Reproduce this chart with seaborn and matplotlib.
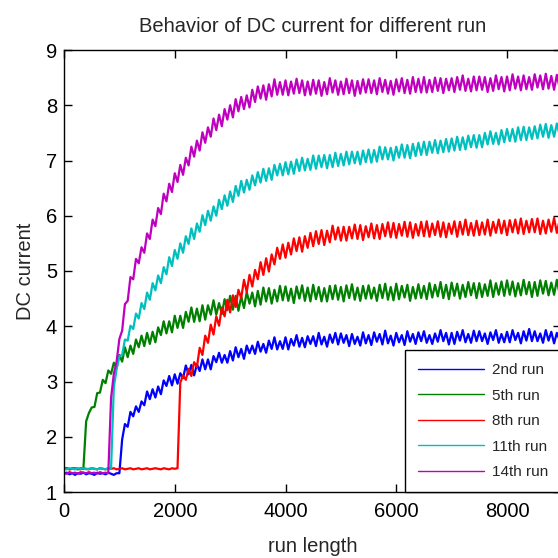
import numpy as np
import pandas as pd
import matplotlib
matplotlib.use("Agg")
import matplotlib.pyplot as plt
import seaborn as sns

run_length = np.arange(0, 9001, 50)

run_2nd = [
    1.33, 1.35, 1.32, 1.34, 1.31, 1.34, 1.33, 1.35, 1.32, 1.34,
    1.33, 1.31, 1.35, 1.33, 1.34, 1.32, 1.35, 1.33, 1.31, 1.34,
    1.34, 1.95, 2.23, 2.18, 2.45, 2.37, 2.55, 2.45, 2.64, 2.57,
    2.82, 2.68, 2.86, 2.71, 2.91, 2.77, 3.02, 2.92, 3.10, 2.93,
    3.13, 2.96, 3.15, 3.06, 3.29, 3.13, 3.30, 3.11, 3.31, 3.19,
    3.40, 3.22, 3.40, 3.22, 3.46, 3.35, 3.52, 3.34, 3.48, 3.34,
    3.55, 3.38, 3.62, 3.44, 3.59, 3.41, 3.65, 3.51, 3.65, 3.50,
    3.72, 3.54, 3.68, 3.52, 3.74, 3.59, 3.80, 3.58, 3.73, 3.59,
    3.80, 3.58, 3.77, 3.65, 3.84, 3.63, 3.79, 3.62, 3.82, 3.68,
    3.82, 3.64, 3.88, 3.67, 3.81, 3.63, 3.85, 3.70, 3.88, 3.67,
    3.87, 3.70, 3.84, 3.64, 3.86, 3.68, 3.81, 3.65, 3.89, 3.69,
    3.84, 3.66, 3.89, 3.72, 3.86, 3.67, 3.92, 3.69, 3.83, 3.65,
    3.88, 3.71, 3.84, 3.66, 3.91, 3.72, 3.86, 3.68, 3.89, 3.73,
    3.91, 3.70, 3.84, 3.68, 3.87, 3.72, 3.93, 3.73, 3.88, 3.67,
    3.88, 3.68, 3.90, 3.74, 3.93, 3.71, 3.86, 3.70, 3.92, 3.73,
    3.91, 3.73, 3.87, 3.68, 3.89, 3.75, 3.93, 3.70, 3.86, 3.71,
    3.90, 3.71, 3.93, 3.75, 3.88, 3.69, 3.91, 3.74, 3.95, 3.73,
    3.91, 3.73, 3.87, 3.70, 3.93, 3.74, 3.90, 3.69, 3.88, 3.75,
    3.90,
]

run_5th = [
    1.42, 1.43, 1.41, 1.43, 1.42, 1.41, 1.43, 1.42, 2.28, 2.43,
    2.53, 2.54, 2.79, 2.80, 3.03, 2.97, 3.20, 3.14, 3.34, 3.25,
    3.48, 3.36, 3.62, 3.44, 3.65, 3.50, 3.76, 3.62, 3.83, 3.64,
    3.88, 3.68, 3.90, 3.71, 3.98, 3.84, 4.09, 3.87, 4.09, 3.89,
    4.19, 3.97, 4.19, 3.97, 4.26, 4.08, 4.34, 4.08, 4.32, 4.09,
    4.38, 4.12, 4.38, 4.21, 4.47, 4.21, 4.42, 4.22, 4.49, 4.29,
    4.55, 4.30, 4.55, 4.28, 4.54, 4.33, 4.62, 4.41, 4.61, 4.36,
    4.64, 4.39, 4.70, 4.45, 4.69, 4.41, 4.66, 4.45, 4.73, 4.47,
    4.72, 4.46, 4.68, 4.42, 4.72, 4.50, 4.74, 4.46, 4.70, 4.45,
    4.75, 4.49, 4.71, 4.45, 4.69, 4.45, 4.73, 4.49, 4.74, 4.48,
    4.71, 4.45, 4.74, 4.51, 4.76, 4.48, 4.70, 4.46, 4.73, 4.50,
    4.74, 4.50, 4.70, 4.46, 4.75, 4.51, 4.77, 4.48, 4.71, 4.47,
    4.77, 4.49, 4.73, 4.52, 4.75, 4.46, 4.71, 4.50, 4.76, 4.51,
    4.73, 4.49, 4.78, 4.52, 4.75, 4.54, 4.80, 4.51, 4.75, 4.49,
    4.79, 4.55, 4.77, 4.50, 4.75, 4.53, 4.80, 4.56, 4.78, 4.51,
    4.78, 4.53, 4.76, 4.55, 4.83, 4.53, 4.78, 4.57, 4.81, 4.55,
    4.83, 4.57, 4.81, 4.54, 4.78, 4.56, 4.84, 4.58, 4.80, 4.53,
    4.80, 4.55, 4.83, 4.59, 4.82, 4.56, 4.79, 4.57, 4.84, 4.58,
    4.80,
]

run_8th = [
    1.42, 1.43, 1.41, 1.42, 1.43, 1.42, 1.41, 1.43, 1.42, 1.41,
    1.43, 1.42, 1.41, 1.43, 1.42, 1.41, 1.43, 1.42, 1.43, 1.41,
    1.42, 1.43, 1.41, 1.42, 1.43, 1.41, 1.42, 1.43, 1.41, 1.42,
    1.43, 1.41, 1.42, 1.43, 1.42, 1.41, 1.43, 1.42, 1.41, 1.43,
    1.42, 1.43, 2.98, 3.11, 3.03, 3.23, 3.10, 3.35, 3.26, 3.61,
    3.48, 3.83, 3.70, 4.03, 3.85, 4.18, 4.01, 4.34, 4.18, 4.48,
    4.25, 4.56, 4.35, 4.66, 4.51, 4.84, 4.62, 4.93, 4.72, 5.02,
    4.85, 5.16, 4.93, 5.23, 4.99, 5.30, 5.12, 5.42, 5.22, 5.48,
    5.24, 5.51, 5.30, 5.59, 5.36, 5.61, 5.35, 5.63, 5.42, 5.69,
    5.45, 5.72, 5.49, 5.74, 5.47, 5.73, 5.52, 5.82, 5.57, 5.79,
    5.55, 5.80, 5.55, 5.80, 5.59, 5.84, 5.58, 5.83, 5.56, 5.81,
    5.61, 5.86, 5.59, 5.83, 5.58, 5.85, 5.63, 5.88, 5.61, 5.87,
    5.60, 5.85, 5.64, 5.89, 5.62, 5.88, 5.60, 5.85, 5.64, 5.89,
    5.63, 5.90, 5.62, 5.86, 5.65, 5.90, 5.62, 5.88, 5.61, 5.86,
    5.67, 5.90, 5.62, 5.89, 5.66, 5.93, 5.65, 5.87, 5.64, 5.91,
    5.65, 5.88, 5.66, 5.93, 5.64, 5.89, 5.69, 5.93, 5.68, 5.91,
    5.65, 5.92, 5.70, 5.93, 5.68, 5.95, 5.67, 5.91, 5.70, 5.94,
    5.70, 5.95, 5.67, 5.91, 5.68, 5.93, 5.71, 5.96, 5.69, 5.92,
    5.70,
]

run_11th = [
    1.42, 1.41, 1.43, 1.42, 1.41, 1.43, 1.42, 1.43, 1.41, 1.42,
    1.43, 1.42, 1.41, 1.43, 1.42, 1.41, 1.43, 1.42, 2.90, 3.22,
    3.46, 3.48, 3.76, 3.74, 4.01, 3.95, 4.23, 4.14, 4.42, 4.31,
    4.61, 4.48, 4.78, 4.65, 4.92, 4.78, 5.07, 4.94, 5.25, 5.09,
    5.38, 5.22, 5.50, 5.33, 5.63, 5.49, 5.77, 5.58, 5.86, 5.71,
    6.01, 5.83, 6.09, 5.91, 6.17, 6.00, 6.29, 6.12, 6.37, 6.18,
    6.44, 6.25, 6.54, 6.36, 6.63, 6.42, 6.65, 6.47, 6.73, 6.55,
    6.79, 6.60, 6.85, 6.63, 6.86, 6.65, 6.92, 6.73, 6.94, 6.73,
    6.97, 6.75, 6.98, 6.76, 7.02, 6.81, 7.05, 6.82, 7.03, 6.83,
    7.09, 6.85, 7.09, 6.88, 7.10, 6.86, 7.10, 6.88, 7.14, 6.90,
    7.12, 6.91, 7.16, 6.93, 7.16, 6.95, 7.16, 6.93, 7.18, 6.97,
    7.20, 6.96, 7.19, 6.98, 7.25, 7.02, 7.24, 7.02, 7.23, 7.00,
    7.25, 7.05, 7.29, 7.05, 7.28, 7.04, 7.30, 7.08, 7.32, 7.10,
    7.34, 7.10, 7.34, 7.14, 7.37, 7.13, 7.36, 7.15, 7.39, 7.16,
    7.40, 7.18, 7.43, 7.19, 7.42, 7.20, 7.45, 7.24, 7.46, 7.23,
    7.46, 7.24, 7.50, 7.29, 7.53, 7.30, 7.50, 7.29, 7.55, 7.33,
    7.57, 7.35, 7.57, 7.34, 7.60, 7.37, 7.61, 7.37, 7.60, 7.39,
    7.62, 7.40, 7.65, 7.43, 7.66, 7.41, 7.64, 7.43, 7.67, 7.46,
    7.66,
]

run_14th = [
    1.35, 1.33, 1.36, 1.34, 1.35, 1.33, 1.36, 1.35, 1.34, 1.36,
    1.34, 1.35, 1.33, 1.36, 1.34, 1.35, 1.34, 2.70, 3.14, 3.36,
    3.77, 3.92, 4.40, 4.46, 4.89, 4.85, 5.22, 5.14, 5.43, 5.33,
    5.68, 5.58, 5.93, 5.81, 6.14, 6.03, 6.40, 6.26, 6.58, 6.43,
    6.77, 6.61, 6.92, 6.74, 7.05, 6.91, 7.25, 7.07, 7.36, 7.18,
    7.51, 7.32, 7.60, 7.43, 7.76, 7.55, 7.83, 7.62, 7.93, 7.74,
    8.00, 7.78, 8.11, 7.89, 8.15, 7.93, 8.18, 7.96, 8.28, 8.06,
    8.34, 8.12, 8.36, 8.10, 8.38, 8.16, 8.47, 8.19, 8.42, 8.19,
    8.45, 8.18, 8.43, 8.21, 8.48, 8.22, 8.45, 8.18, 8.43, 8.19,
    8.46, 8.21, 8.45, 8.17, 8.42, 8.20, 8.49, 8.23, 8.45, 8.19,
    8.43, 8.20, 8.48, 8.22, 8.45, 8.17, 8.44, 8.21, 8.47, 8.23,
    8.47, 8.22, 8.45, 8.20, 8.49, 8.24, 8.46, 8.21, 8.44, 8.19,
    8.47, 8.25, 8.49, 8.22, 8.46, 8.21, 8.51, 8.24, 8.48, 8.23,
    8.51, 8.23, 8.46, 8.24, 8.50, 8.26, 8.49, 8.22, 8.48, 8.27,
    8.49, 8.24, 8.51, 8.28, 8.54, 8.26, 8.48, 8.25, 8.52, 8.27,
    8.52, 8.28, 8.51, 8.24, 8.49, 8.26, 8.54, 8.29, 8.51, 8.25,
    8.52, 8.27, 8.56, 8.30, 8.52, 8.27, 8.54, 8.29, 8.51, 8.28,
    8.56, 8.32, 8.54, 8.29, 8.57, 8.30, 8.53, 8.28, 8.55, 8.31,
    8.52,
]

run_names = ["2nd run", "5th run", "8th run", "11th run", "14th run"]
run_colors = ["#0000ff", "#008000", "#ff0000", "#00bfbf", "#bf00bf"]

df = pd.DataFrame({
    "run length": np.tile(run_length, 5),
    "DC current": np.concatenate([run_2nd, run_5th, run_8th, run_11th, run_14th]),
    "run": np.repeat(run_names, len(run_length)),
})

sns.set_style("ticks", {"xtick.direction": "in", "ytick.direction": "in"})
plt.rcParams["font.family"] = ["Liberation Sans", "DejaVu Sans"]

fig = plt.figure(figsize=(5.58, 5.58), dpi=100)
# the right side of the axes runs just past the picture, as in the original
ax = fig.add_axes([64 / 558, 66 / 558, 497 / 558, 442 / 558])

sns.lineplot(data=df, x="run length", y="DC current", hue="run",
             hue_order=run_names, palette=run_colors, estimator=None,
             sort=False, linewidth=1.6, ax=ax)

ax.set_xlim(0, 8975)
ax.set_ylim(1, 9)
ax.set_xticks([0, 2000, 4000, 6000, 8000])
ax.set_yticks(range(1, 10))
ax.tick_params(axis="both", which="both", direction="in", length=6, width=1,
               top=True, right=True, labelsize=14.5, colors="black")
ax.tick_params(axis="x", pad=7)
ax.tick_params(axis="y", pad=5)
for s in ax.spines.values():
    s.set_visible(True)
    s.set_linewidth(1.0)
    s.set_color("black")

ax.set_title("Behavior of DC current for different run", fontsize=14.5, pad=13)
ax.set_xlabel("run length", fontsize=14.5, labelpad=12)
ax.set_ylabel("DC current", fontsize=14.5, labelpad=8)

leg = ax.get_legend()
handles = leg.legend_handles
labels = [t.get_text() for t in leg.get_texts()]
for h in handles:
    h.set_linewidth(1.0)
ax.legend(handles, labels, loc="lower right", borderaxespad=0, frameon=True,
          fancybox=False, edgecolor="black", framealpha=1, fontsize=11,
          handlelength=4.3, handletextpad=0.5, labelspacing=0.75,
          borderpad=0.85)
ax.get_legend().get_frame().set_linewidth(1.0)

fig.savefig("out.png", dpi=100)
